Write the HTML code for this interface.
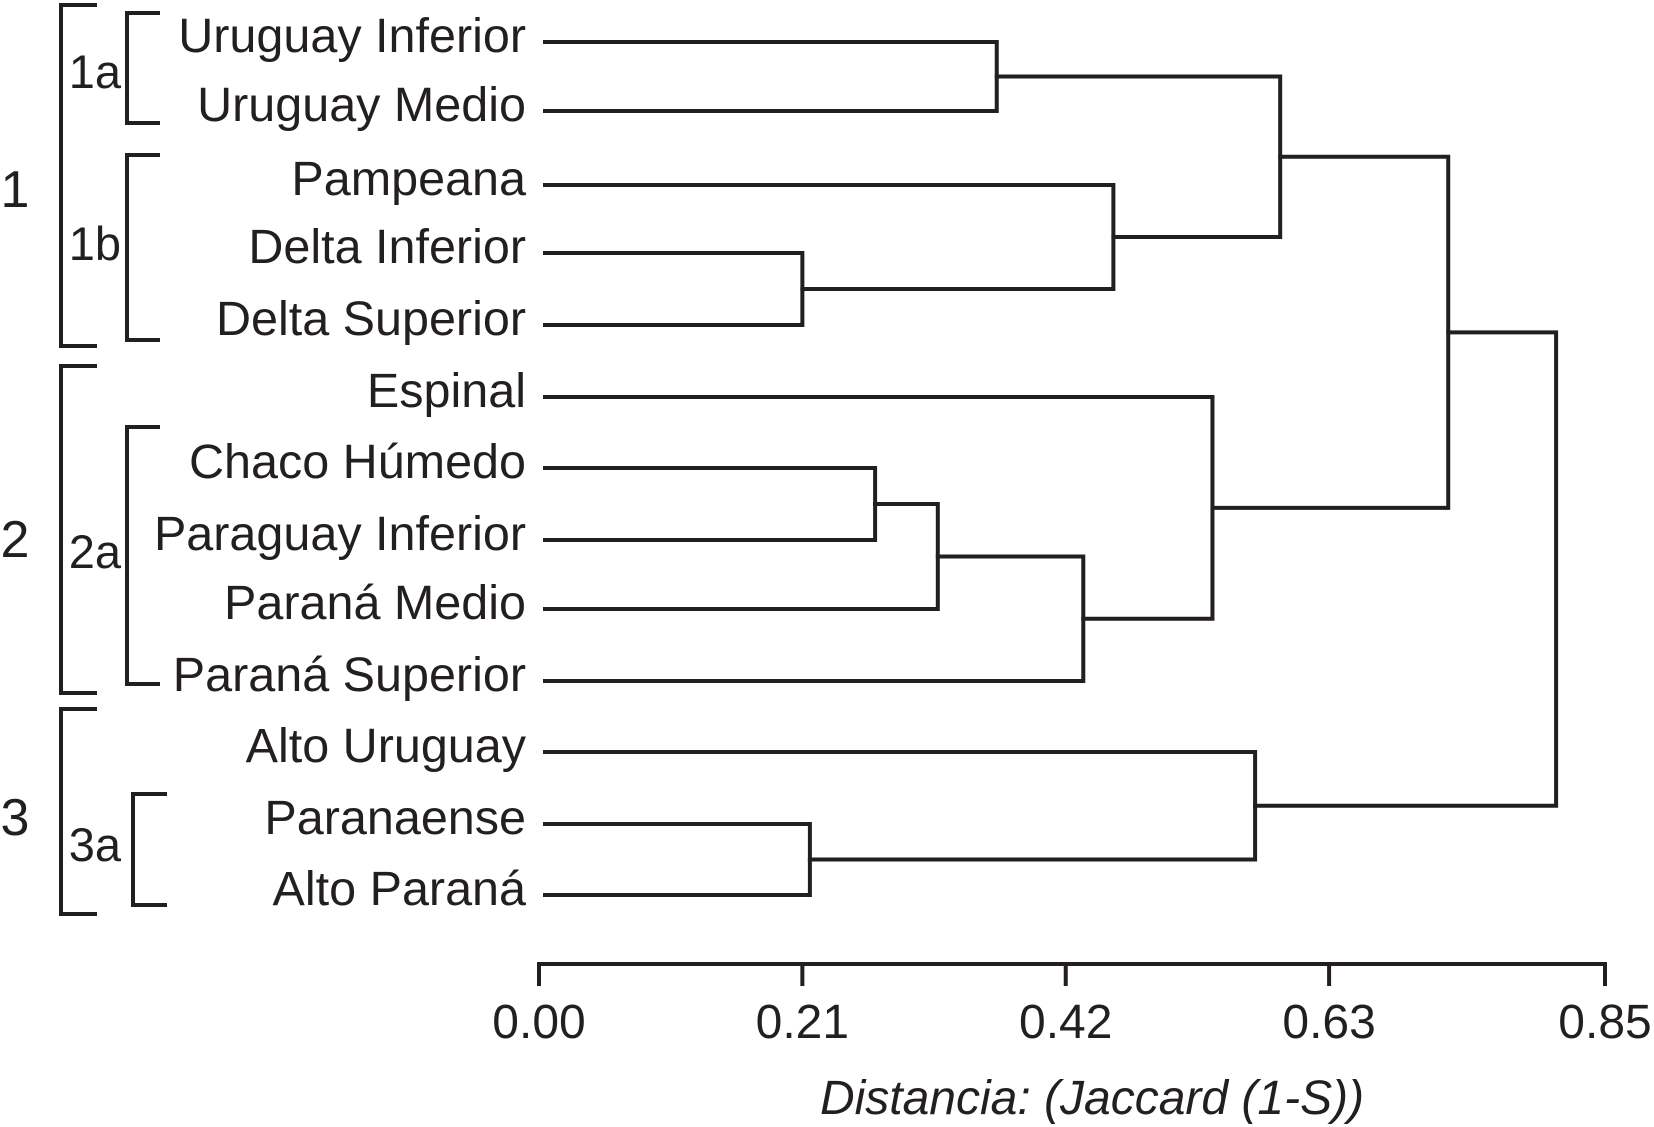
<!DOCTYPE html>
<html><head><meta charset="utf-8"><style>
html,body{margin:0;padding:0;background:#fff;}
svg{display:block;font-family:"Liberation Sans",Arial,sans-serif;}
</style></head><body>
<svg id="chart" width="1654" height="1127" viewBox="0 0 1654 1127" xmlns="http://www.w3.org/2000/svg"></svg>
<script>
const leaves = ["Uruguay Inferior","Uruguay Medio","Pampeana","Delta Inferior","Delta Superior","Espinal","Chaco Húmedo","Paraguay Inferior","Paraná Medio","Paraná Superior","Alto Uruguay","Paranaense","Alto Paraná"];
const leafY = [42,111,185,253,325,397,468,540,609,681,752,824,895];
const mergesLeft  = [0, 3, 2, "n0", 6, "n4", "n5", 5, "n3", 11, 10, "n8"];
const mergesRight = [1, 4, "n1", "n2", 7, 8, 9, "n6", "n7", 12, "n9", "n10"];
const mergesHeight= [0.365, 0.210, 0.458, 0.591, 0.268, 0.318, 0.434, 0.537, 0.725, 0.216, 0.571, 0.811];
const ticks = [0, 0.21, 0.42, 0.63, 0.85];
const tickLabels = ["0.00","0.21","0.42","0.63","0.85"];

const svg = document.getElementById('chart');
const NS = "http://www.w3.org/2000/svg";
const x0 = 539, x1 = 1605, dmax = 0.85;
const xs = d => x0 + (d / dmax) * (x1 - x0);
const leafStart = 545;
function el(tag, attrs, parent){ const e = document.createElementNS(NS, tag); for (const k in attrs) e.setAttribute(k, attrs[k]); (parent||svg).appendChild(e); return e; }
const stroke = {stroke:"#231f20","stroke-width":4,fill:"none","stroke-linecap":"square"};

leaves.forEach((name,i)=>{
  const t = el('text',{x:526,y:leafY[i]+10,"text-anchor":"end","font-size":48.5,fill:"#231f20"});
  t.textContent = name;
  
  
});
const nodes = [];
function pos(ref){
  if (typeof ref === 'number') return {x: leafStart, y: leafY[ref]};
  return nodes[parseInt(ref.slice(1))];
}
mergesLeft.forEach((a,k)=>{
  const A = pos(a), B = pos(mergesRight[k]);
  const hx = xs(mergesHeight[k]);
  const p = el('path',Object.assign({d:`M${A.x},${A.y} H${hx} V${B.y} H${B.x}`},stroke));
  
  
  nodes[k] = {x: hx, y: (A.y + B.y)/2};
});
const axY = 964;
const ax = el('path',Object.assign({d:`M${x0},${axY+20} V${axY} H${x1} V${axY+20}`},stroke));


ticks.forEach((v,i)=>{
  const tk = el('line',Object.assign({x1:xs(v),x2:xs(v),y1:axY,y2:axY+20},stroke));
  
  
  const t = el('text',{x:xs(v),y:axY+74,"text-anchor":"middle","font-size":48,fill:"#231f20"});
  t.textContent = tickLabels[i];
  
  
});
const title = el('text',{x:1092,y:1114,"text-anchor":"middle","font-size":48,"font-style":"italic",fill:"#231f20"});
title.textContent = "Distancia: (Jaccard (1-S))";



const brX = [61,127,127,61,127,61,133];
const brTop = [5,13,155,366,427,709,794];
const brBot = [346,123,340,693,684,914,905];
const brArm = [97,160,160,97,160,97,167];
const brLabel = ["1","1a","1b","2","2a","3","3a"];
const brLabelX = [15,121,121,15,121,15,121];
const brLabelY = [190,71,243,540,551,818,844];
const brSize = [52,47,47,52,47,52,47];
brX.forEach((x,i)=>{
  const b = el('path',Object.assign({d:`M${brArm[i]},${brTop[i]} H${x} V${brBot[i]} H${brArm[i]}`},stroke,{"stroke-linecap":"butt"}));
  
  
  const big = brLabel[i].length === 1;
  const t = el('text',{x:brLabelX[i],y:brLabelY[i]+17,"text-anchor":big?"middle":"end","font-size":brSize[i],fill:"#231f20"});
  t.textContent = brLabel[i];
  
  
});
</script>
</body></html>
